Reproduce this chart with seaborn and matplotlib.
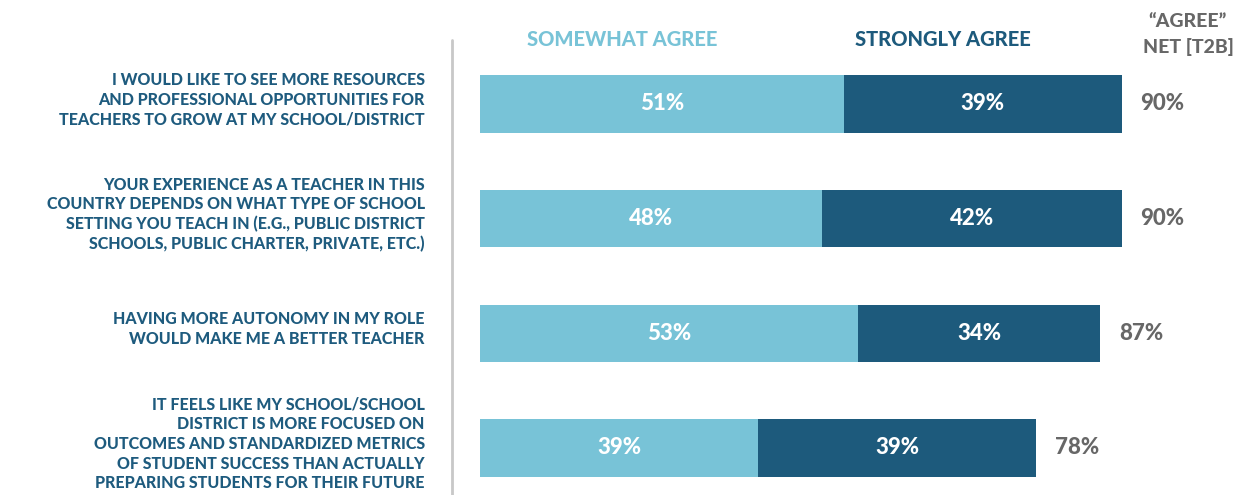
import matplotlib
matplotlib.use("Agg")
import matplotlib.pyplot as plt
import pandas as pd
import seaborn as sns

# data
statements = [
    "I WOULD LIKE TO SEE MORE RESOURCES\nAND PROFESSIONAL OPPORTUNITIES FOR\nTEACHERS TO GROW AT MY SCHOOL/DISTRICT",
    "YOUR EXPERIENCE AS A TEACHER IN THIS\nCOUNTRY DEPENDS ON WHAT TYPE OF SCHOOL\nSETTING YOU TEACH IN (E.G., PUBLIC DISTRICT\nSCHOOLS, PUBLIC CHARTER, PRIVATE, ETC.)",
    "HAVING MORE AUTONOMY IN MY ROLE\nWOULD MAKE ME A BETTER TEACHER",
    "IT FEELS LIKE MY SCHOOL/SCHOOL\nDISTRICT IS MORE FOCUSED ON\nOUTCOMES AND STANDARDIZED METRICS\nOF STUDENT SUCCESS THAN ACTUALLY\nPREPARING STUDENTS FOR THEIR FUTURE",
]
somewhat = [51, 48, 53, 39]
strongly = [39, 42, 34, 39]
net_t2b = [90, 90, 87, 78]

LIGHT = "#78c3d7"
DARK = "#1d5a7c"
NAVY = "#1e5b7e"
GREY = "#676767"
W = 900

sns.set_theme(style="white")
plt.rcParams["font.family"] = ["Lato", "DejaVu Sans"]

df = pd.DataFrame({"statement": statements, "somewhat": somewhat,
                   "strongly": strongly, "net": net_t2b})
df["total"] = df["somewhat"] + df["strongly"]

fig = plt.figure(figsize=(12.4, 4.95), dpi=100)
ax = fig.add_axes([480 / 1240, 0, 1 - 480 / 1240, 1])

# stacked: full bar in dark, light segment drawn over it
sns.barplot(data=df, y="statement", x="total", color=DARK, orient="h",
            width=0.5, saturation=1, linewidth=0, ax=ax)
sns.barplot(data=df, y="statement", x="somewhat", color=LIGHT, orient="h",
            width=0.5, saturation=1, linewidth=0, ax=ax)

ax.set_xlim(0, 106.6)
ax.set_ylim(3.41, -0.907)
ax.set_xlabel("")
ax.set_ylabel("")
ax.set_xticks([])
ax.set_yticks([])
sns.despine(ax=ax, left=True, bottom=True)

for i, row in df.iterrows():
    # statement text, right aligned left of the divider
    ax.text(-7.75, i - 0.035, row["statement"], ha="right", va="center",
            multialignment="right", color=NAVY, fontsize=11.5, fontweight=W,
            linespacing=1.28, clip_on=False)
    ax.text(row["somewhat"] / 2, i, f"{row['somewhat']}%", ha="center", va="center",
            color="white", fontsize=16, fontweight=W)
    ax.text(row["somewhat"] + row["strongly"] / 2, i, f"{row['strongly']}%",
            ha="center", va="center", color="white", fontsize=16, fontweight=W)
    ax.text(row["total"] + 2.6, i, f"{row['net']}%", ha="left", va="center",
            color=GREY, fontsize=16, fontweight=W)

# column headers
ax.text(19.9, -0.56, "SOMEWHAT AGREE", ha="center", va="center",
        color=LIGHT, fontsize=14.5, fontweight=W)
ax.text(64.9, -0.56, "STRONGLY AGREE", ha="center", va="center",
        color=DARK, fontsize=14.5, fontweight=W)
ax.text(99.3, -0.605, "\u201cAGREE\u201d\nNET [T2B]", ha="center", va="center",
        color=GREY, fontsize=14, fontweight=W, linespacing=1.55, clip_on=False)

# divider line left of bars
ax.plot([-3.93, -3.93], [-0.56, 3.41], color="#c8c8c8", lw=2, clip_on=False)

fig.savefig("out.png", dpi=100)
